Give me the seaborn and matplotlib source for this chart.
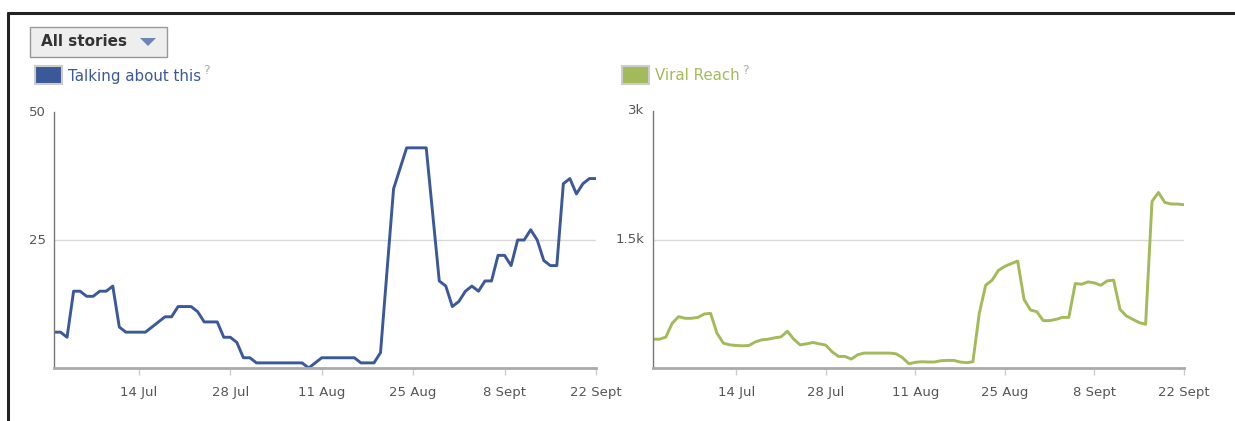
import pandas as pd
import seaborn as sns
import matplotlib.pyplot as plt
from matplotlib.patches import Rectangle, Polygon

# daily values, 1 Jul -> 22 Sept
talking = [7, 7, 6, 15, 15, 14, 14, 15, 15, 16,
           8, 7, 7, 7, 7, 8, 9, 10, 10, 12,
           12, 12, 11, 9, 9, 9, 6, 6, 5, 2,
           2, 1, 1, 1, 1, 1, 1, 1, 1, 0,
           1, 2, 2, 2, 2, 2, 2, 1, 1, 1,
           3, 19, 35, 39, 43, 43, 43, 43, 30, 17,
           16, 12, 13, 15, 16, 15, 17, 17, 22, 22,
           20, 25, 25, 27, 25, 21, 20, 20, 36, 37,
           34, 36, 37, 37]
viral = [336, 336, 360, 522, 600, 580, 580, 590, 630, 638,
         406, 290, 270, 263, 259, 263, 305, 329, 336, 352,
         363, 429, 336, 270, 282, 298, 282, 267, 189, 135,
         135, 104, 155, 174, 174, 174, 174, 174, 166, 120,
         50, 66, 73, 70, 70, 85, 89, 89, 70, 62,
         73, 638, 966, 1025, 1140, 1187, 1218, 1249, 800, 677,
         657, 553, 553, 568, 591, 591, 986, 978, 1005, 993,
         966, 1017, 1025, 684, 607, 568, 530, 510, 1945, 2049,
         1933, 1914, 1914, 1906]
dates = pd.date_range("2011-07-01", periods=len(talking), freq="D")
tick_dates = pd.to_datetime(["2011-07-14", "2011-07-28", "2011-08-11",
                             "2011-08-25", "2011-09-08", "2011-09-22"])
tick_labels = ["14 Jul", "28 Jul", "11 Aug", "25 Aug", "8 Sept", "22 Sept"]

df = pd.DataFrame({"date": dates, "talking": talking, "viral": viral})

sns.set_style("white")
plt.rcParams["font.family"] = ["DejaVu Sans"]

blue = "#3b5998"
green = "#a2ba59"

fig = plt.figure(figsize=(12.35, 4.21), dpi=100)

# outer frame (top + left edges)
fig.add_artist(plt.Line2D([8 / 1235, 1], [1 - 13 / 421] * 2, color="#222222", lw=2.2))
fig.add_artist(plt.Line2D([8 / 1235] * 2, [0, 1 - 13 / 421], color="#222222", lw=2.2))

# "All stories" button
fig.add_artist(Rectangle((30 / 1235, 1 - 57 / 421), 137 / 1235, 30 / 421,
                         transform=fig.transFigure, facecolor="#eeeeee",
                         edgecolor="#999999", lw=1))
fig.text(41 / 1235, 1 - 42 / 421, "All stories", fontsize=11, fontweight="bold",
         color="#333333", va="center")
fig.add_artist(Polygon([[140 / 1235, 1 - 38 / 421], [156 / 1235, 1 - 38 / 421],
                        [148 / 1235, 1 - 46 / 421]], closed=True,
                       transform=fig.transFigure, facecolor="#6d84b4", edgecolor="none"))


def legend_item(x0, label, color):
    fig.add_artist(Rectangle((x0 / 1235, 1 - 84 / 421), 27 / 1235, 18 / 421,
                             transform=fig.transFigure, facecolor=color,
                             edgecolor="#cccccc", lw=1.5))
    t = fig.text((x0 + 33) / 1235, 1 - 76 / 421, label, fontsize=10.8,
                 color=color, va="center")
    fig.canvas.draw()
    bb = t.get_window_extent()
    fig.text(bb.x1 / 1235 + 0.002, 1 - 71 / 421, "?", fontsize=9,
             color="#aaaaaa", va="center")


legend_item(35, "Talking about this", blue)
legend_item(622, "Viral Reach", green)

ax1 = fig.add_axes([54 / 1235, 1 - 368 / 421, 542 / 1235, 256 / 421])
ax2 = fig.add_axes([653 / 1235, 1 - 368 / 421, 531 / 1235, 257 / 421])

panels = [
    (ax1, "talking", blue, [0, 25, 50], ["", "25", "50"], 50),
    (ax2, "viral", green, [0, 1500, 3000], ["", "1.5k", "3k"], 3000),
]
for ax, col, color, yt, yl, ymax in panels:
    sns.lineplot(data=df, x="date", y=col, ax=ax, color=color, lw=2.1)
    ax.set_xlim(dates[0], dates[-1])
    ax.set_ylim(0, ymax)
    ax.set_yticks(yt)
    ax.set_yticklabels(yl)
    ax.set_xticks(tick_dates)
    ax.set_xticklabels(tick_labels)
    ax.axhline(yt[1], color="#d9d9d9", lw=1, zorder=0)
    ax.set_xlabel("")
    ax.set_ylabel("")
    for s in ["top", "right"]:
        ax.spines[s].set_visible(False)
    ax.spines["left"].set_color("#777777")
    ax.spines["left"].set_linewidth(1)
    ax.spines["bottom"].set_color("#aaaaaa")
    ax.spines["bottom"].set_linewidth(2)
    ax.tick_params(axis="x", length=5, width=1, color="#cccccc",
                   labelsize=9.5, labelcolor="#555555", pad=8, bottom=True)
    ax.tick_params(axis="y", length=0, labelsize=9.5, labelcolor="#555555", pad=6)
    for lab in ax.get_yticklabels():
        lab.set_verticalalignment("center")

plt.savefig("out.png", dpi=100)
